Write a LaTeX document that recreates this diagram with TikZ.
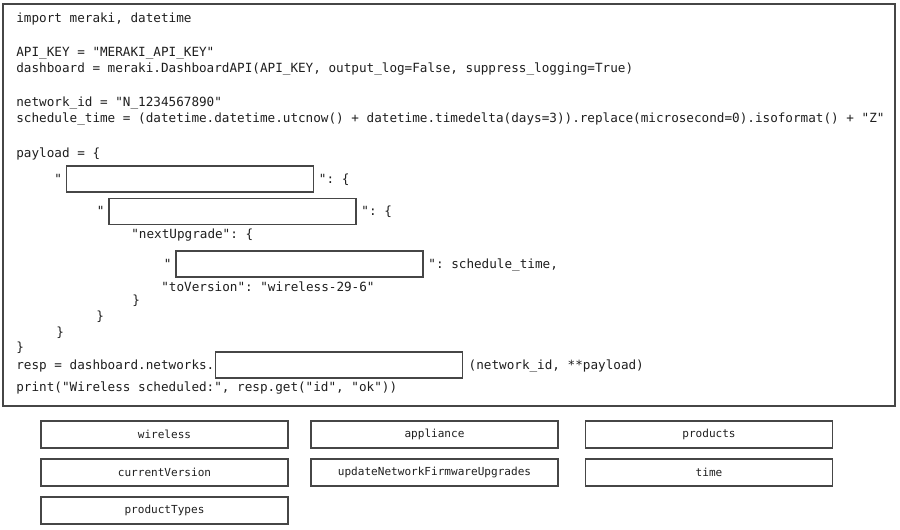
\documentclass[tikz,border=0pt]{standalone}
\usepackage{fontspec}
\setmonofont{DejaVu Sans Mono}
\usetikzlibrary{positioning}
\definecolor{inkgray}{RGB}{30,30,30}
\definecolor{framegray}{RGB}{70,70,70}

\tikzset{
  codeline/.style={anchor=west, inner sep=0pt, text=inkgray,
    font=\ttfamily\fontsize{7.2}{8}\selectfont, text height=0.73em, text depth=0.22em},
  blank/.style={draw=framegray, line width=0.8pt, minimum width=4.94cm,
    minimum height=0.52cm, inner sep=0pt},
  choice/.style={draw=framegray, line width=0.8pt, minimum width=4.94cm,
    minimum height=0.54cm, inner sep=0pt, text=inkgray,
    font=\ttfamily\fontsize{6.3}{7}\selectfont}
}

\begin{document}
\begin{tikzpicture}[x=0.02cm, y=-0.02cm]
\useasboundingbox (0,0) rectangle (900,529);
\draw[framegray, line width=1.2pt] (3,4) rectangle (895,406);
% code lines
\node[codeline] (l1) at (16,18) {import meraki, datetime};
\node[codeline] (l3) at (16,52) {API\_KEY = "MERAKI\_API\_KEY"};
\node[codeline] (l4) at (16,68) {dashboard = meraki.DashboardAPI(API\_KEY, output\_log=False, suppress\_logging=True)};
\node[codeline] (l6) at (16,102) {network\_id = "N\_1234567890"};
\node[codeline] (l7) at (16,118) {schedule\_time = (datetime.datetime.utcnow() + datetime.timedelta(days=3)).replace(microsecond=0).isoformat() + "Z"};
\node[codeline] (l9) at (16,153) {payload = \{};
% blanks to fill in
\node[blank] (b1) at (190,179) {};
\node[codeline, left=2pt of b1] (q1) {"};
\node[codeline, right=2.5pt of b1] (s1) {": \{};
\node[blank] (b2) at (232.5,211.5) {};
\node[codeline, left=2pt of b2] (q2) {"};
\node[codeline, right=2.5pt of b2] (s2) {": \{};
\node[codeline] (l12) at (131,234) {"nextUpgrade": \{};
\node[blank] (b3) at (299.5,264) {};
\node[codeline, left=2pt of b3] (q3) {"};
\node[codeline, right=2.5pt of b3] (s3) {": schedule\_time,};
\node[codeline] (l14) at (161,287) {"toVersion": "wireless-29-6"};
\node[codeline] (c1) at (132,300) {\}};
\node[codeline] (c2) at (96,316) {\}};
\node[codeline] (c3) at (56,332) {\}};
\node[codeline] (c4) at (16,347) {\}};
\node[codeline] (l19) at (16,365) {resp = dashboard.networks.};
\node[blank, right=0pt of l19] (b4) {};
\node[codeline, right=3pt of b4] (s4) {(network\_id, **payload)};
\node[codeline] (l20) at (16,387) {print("Wireless scheduled:", resp.get("id", "ok"))};
% answer options
\foreach \i/\x/\y/\t in {1/164.5/434.5/wireless, 2/434.5/434.5/appliance, 3/709/434.5/products,
    4/164.5/472.5/currentVersion, 5/434.5/472.5/updateNetworkFirmwareUpgrades, 6/709/472.5/time,
    7/164.5/510.5/productTypes} {
  \node[choice] (opt\i) at (\x,\y) {\t};
}
\end{tikzpicture}
\end{document}
